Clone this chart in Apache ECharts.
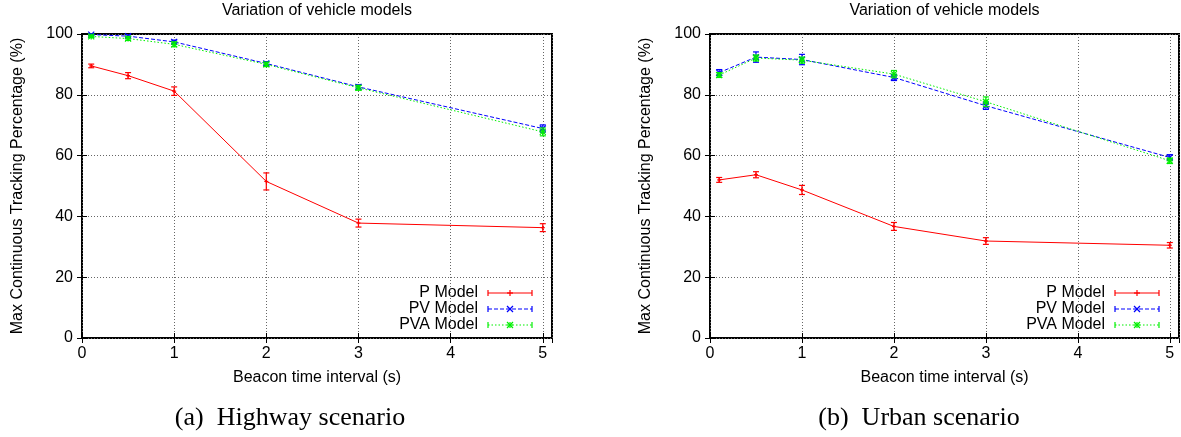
<!DOCTYPE html>
<html>
<head>
<meta charset="utf-8">
<script src="https://cdn.jsdelivr.net/npm/echarts@6/dist/echarts.min.js"></script>
<style>
  html, body { margin: 0; padding: 0; background: #fff; }
  #chart { width: 1181px; height: 437px; }
</style>
</head>
<body>
<div id="chart"></div>
<script>
// Beacon time intervals (s) shared by every series
const intervals = [0.1, 0.5, 1, 2, 3, 5];

// Highway scenario: mean and error of the max continuous tracking percentage
const highwayP = [89.5, 86.3, 81.2, 51.5, 37.8, 36.3];
const highwayPErr = [0.6, 1.0, 1.4, 2.8, 1.3, 1.3];
const highwayPV = [99.8, 99.3, 97.4, 90.3, 82.6, 68.9];
const highwayPVErr = [0.3, 0.4, 0.6, 0.6, 0.7, 1.2];
const highwayPVA = [99.2, 98.5, 96.6, 90.0, 82.3, 67.8];
const highwayPVAErr = [0.4, 0.6, 0.8, 0.7, 0.8, 1.3];

// Urban scenario
const urbanP = [52.0, 53.7, 48.7, 36.7, 31.9, 30.5];
const urbanPErr = [0.8, 1.0, 1.5, 1.3, 1.1, 0.9];
const urbanPV = [87.3, 92.4, 91.6, 85.7, 76.4, 59.4];
const urbanPVErr = [1.0, 1.7, 1.7, 1.0, 1.2, 0.9];
const urbanPVA = [86.5, 92.1, 91.4, 86.8, 77.7, 58.3];
const urbanPVAErr = [0.8, 1.0, 1.0, 1.2, 1.6, 0.9];

const modelNames = ['P Model', 'PV Model', 'PVA Model'];
const panelTitle = 'Variation of vehicle models';
const xAxisTitle = 'Beacon time interval (s)';
const yAxisTitle = 'Max Continuous Tracking Percentage (%)';
const captions = ['(a)  Highway scenario', '(b)  Urban scenario'];

const SANS = '"Liberation Sans", Arial, Helvetica, sans-serif';
const SERIF = '"Liberation Serif", "Times New Roman", serif';
const FS = 16;

const RED = '#ff0000', BLUE = '#0000ff', GREEN = '#00f000';
const styles = [
  { color: RED, dash: 'solid', marker: 'plus' },
  { color: BLUE, dash: [4, 2], marker: 'cross' },
  { color: GREEN, dash: [1.5, 2], marker: 'star' }
];

const panels = [
  { left: 82, width: 470, series: [[highwayP, highwayPErr], [highwayPV, highwayPVErr], [highwayPVA, highwayPVAErr]] },
  { left: 710, width: 469, series: [[urbanP, urbanPErr], [urbanPV, urbanPVErr], [urbanPVA, urbanPVAErr]] }
];
const TOP = 34, HEIGHT = 304;

function markerLines(kind, cx, cy, color, r) {
  const st = { stroke: color, lineWidth: 1.2 };
  const out = [];
  if (kind === 'plus' || kind === 'star') {
    out.push({ type: 'line', shape: { x1: cx - r, y1: cy, x2: cx + r, y2: cy }, style: st });
    out.push({ type: 'line', shape: { x1: cx, y1: cy - r, x2: cx, y2: cy + r }, style: st });
  }
  if (kind === 'cross' || kind === 'star') {
    out.push({ type: 'line', shape: { x1: cx - r, y1: cy - r, x2: cx + r, y2: cy + r }, style: st });
    out.push({ type: 'line', shape: { x1: cx - r, y1: cy + r, x2: cx + r, y2: cy - r }, style: st });
  }
  return out;
}

const grid = [], xAxis = [], yAxis = [], series = [], graphic = [];

panels.forEach((p, g) => {
  grid.push({
    left: p.left, top: TOP, width: p.width, height: HEIGHT,
    show: true, borderColor: '#000', borderWidth: 2, backgroundColor: 'transparent'
  });
  const tickStyle = { show: true, inside: true, length: 5, lineStyle: { color: '#000', width: 1 } };
  const splitStyle = { show: true, lineStyle: { color: '#666', type: [1, 2], width: 1 } };
  xAxis.push({
    type: 'value', gridIndex: g, position: 'bottom', min: 0, max: 5.1, interval: 1,
    axisLine: { show: false }, axisTick: tickStyle,
    axisLabel: {
      color: '#000', fontSize: FS, fontFamily: SANS, margin: 8, showMaxLabel: false,
      formatter: v => (Number.isInteger(v) ? String(v) : '')
    },
    splitLine: splitStyle,
    name: xAxisTitle, nameLocation: 'middle', nameGap: 32,
    nameTextStyle: { color: '#000', fontSize: FS, fontFamily: SANS }
  });
  xAxis.push({
    type: 'value', gridIndex: g, position: 'top', min: 0, max: 5.1, interval: 1,
    axisLine: { show: false }, axisTick: tickStyle, axisLabel: { show: false }, splitLine: { show: false }
  });
  yAxis.push({
    type: 'value', gridIndex: g, position: 'left', min: 0, max: 100, interval: 20,
    axisLine: { show: false }, axisTick: tickStyle,
    axisLabel: { color: '#000', fontSize: FS, fontFamily: SANS, margin: 9 },
    splitLine: splitStyle,
    name: yAxisTitle, nameLocation: 'middle', nameGap: 56,
    nameTextStyle: { color: '#000', fontSize: FS, fontFamily: SANS }
  });
  yAxis.push({
    type: 'value', gridIndex: g, position: 'right', min: 0, max: 100, interval: 20,
    axisLine: { show: false }, axisTick: tickStyle, axisLabel: { show: false }, splitLine: { show: false }
  });

  p.series.forEach(([vals, errs], k) => {
    const s = styles[k];
    series.push({
      type: 'line', name: modelNames[k], xAxisIndex: 2 * g, yAxisIndex: 2 * g,
      data: intervals.map((x, i) => [x, vals[i]]),
      symbol: 'none', silent: true, z: 3 + k,
      lineStyle: { color: s.color, width: 1, type: s.dash }
    });
    series.push({
      type: 'custom', name: modelNames[k] + ' error', xAxisIndex: 2 * g, yAxisIndex: 2 * g, z: 3 + k,
      silent: true,
      data: intervals.map((x, i) => [x, vals[i], errs[i]]),
      renderItem(params, api) {
        const x = api.value(0), y = api.value(1), e = api.value(2);
        const c = api.coord([x, y]);
        const t = api.coord([x, y + e]);
        const b = api.coord([x, y - e]);
        const st = { stroke: s.color, lineWidth: 1.2 };
        const cap = 3;
        const children = [
          { type: 'line', shape: { x1: c[0], y1: t[1], x2: c[0], y2: b[1] }, style: st },
          { type: 'line', shape: { x1: c[0] - cap, y1: t[1], x2: c[0] + cap, y2: t[1] }, style: st },
          { type: 'line', shape: { x1: c[0] - cap, y1: b[1], x2: c[0] + cap, y2: b[1] }, style: st }
        ].concat(markerLines(s.marker, c[0], c[1], s.color, s.marker === 'plus' ? 2 : 3));
        return { type: 'group', children };
      }
    });
  });

  // panel heading
  graphic.push({
    type: 'text', x: p.left + p.width / 2, y: 11,
    style: { text: panelTitle, fill: '#000', font: FS + 'px ' + SANS, align: 'center', verticalAlign: 'middle' }
  });

  // key in the lower-right corner of the plot
  const textRight = p.left + p.width - 74;
  const sx1 = textRight + 10, sx2 = textRight + 54, mid = (sx1 + sx2) / 2;
  modelNames.forEach((nm, k) => {
    const s = styles[k];
    const y = 293 + k * 16;
    graphic.push({
      type: 'text', x: textRight, y: y,
      style: { text: nm, fill: '#000', font: FS + 'px ' + SANS, align: 'right', verticalAlign: 'middle' }
    });
    const ls = { stroke: s.color, lineWidth: 1.2, lineDash: s.dash === 'solid' ? null : s.dash };
    const cs = { stroke: s.color, lineWidth: 1.2 };
    graphic.push({ type: 'line', shape: { x1: sx1, y1: y, x2: sx2, y2: y }, style: ls });
    graphic.push({ type: 'line', shape: { x1: sx1, y1: y - 3, x2: sx1, y2: y + 3 }, style: cs });
    graphic.push({ type: 'line', shape: { x1: sx2, y1: y - 3, x2: sx2, y2: y + 3 }, style: cs });
    markerLines(s.marker, mid, y, s.color, 3).forEach(el => graphic.push(el));
  });

  // sub-figure caption
  graphic.push({
    type: 'text', x: g === 0 ? 290 : 919, y: 418,
    style: { text: captions[g], fill: '#000', font: '26px ' + SERIF, align: 'center', verticalAlign: 'middle' }
  });
});

const chart = echarts.init(document.getElementById('chart'), null, { renderer: 'canvas' });
chart.setOption({
  backgroundColor: '#fff',
  animation: false,
  grid, xAxis, yAxis, series, graphic
});
</script>
</body>
</html>
